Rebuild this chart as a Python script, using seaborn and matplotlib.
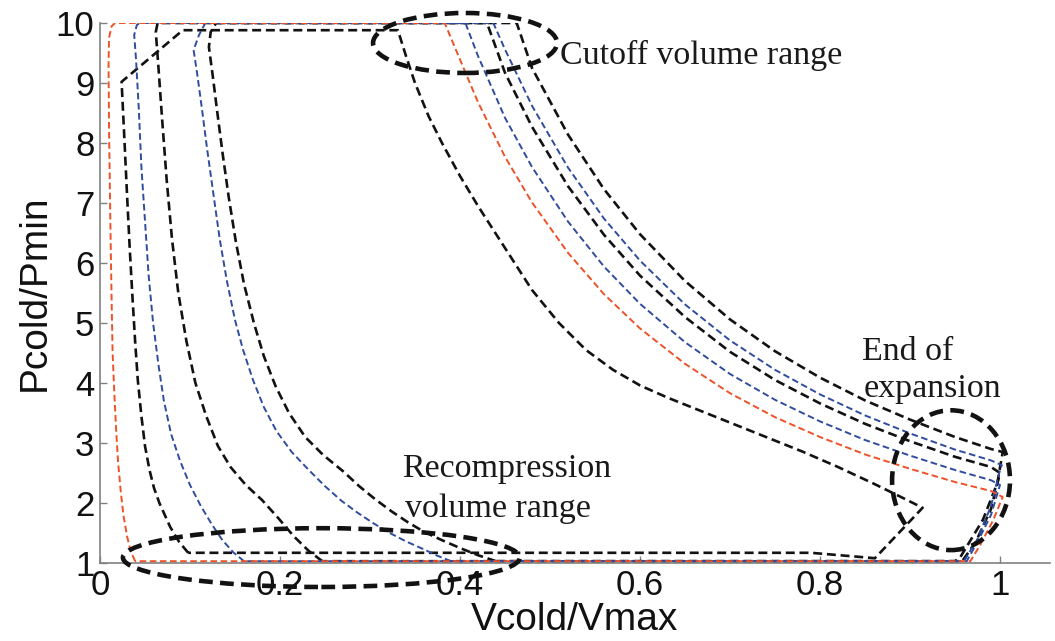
import matplotlib
matplotlib.use("Agg")
import matplotlib.pyplot as plt
from matplotlib.patches import Ellipse
import seaborn as sns
import pandas as pd

# ---- data (x = Vcold/Vmax, y = Pcold/Pmin) ----
# each loop: recompression (up), top line, expansion (down), end stroke, bottom line back
red_x = [0.039, 0.034, 0.030, 0.026, 0.023, 0.020, 0.018, 0.016, 0.014, 0.013, 0.012, 0.011, 0.010,
         0.0095, 0.010, 0.013, 0.017,
         0.383, 0.400, 0.420, 0.450, 0.480, 0.520, 0.560, 0.600, 0.650, 0.700, 0.750, 0.800,
         0.850, 0.900, 0.950, 0.990,
         1.003, 0.992, 0.978, 0.967, 0.039]
red_y = [1.03, 1.20, 1.45, 1.80, 2.20, 2.70, 3.20, 3.80, 4.50, 5.30, 6.20, 7.20, 8.30,
         9.30, 9.75, 9.95, 10.0,
         10.0, 9.39, 8.68, 7.77, 7.01, 6.17, 5.48, 4.91, 4.32, 3.83, 3.43, 3.10,
         2.81, 2.57, 2.35, 2.20,
         2.10, 1.70, 1.30, 1.03, 1.03]

blue1_x = [0.160, 0.148, 0.136, 0.124, 0.112, 0.100, 0.089, 0.079, 0.071, 0.065, 0.059, 0.054,
           0.050, 0.046, 0.043, 0.040, 0.038, 0.041, 0.045,
           0.406, 0.420, 0.450, 0.480, 0.520, 0.560, 0.600, 0.650, 0.700, 0.750, 0.800,
           0.850, 0.900, 0.950, 0.990,
           1.000, 0.990, 0.975, 0.963, 0.160]
blue1_y = [1.03, 1.18, 1.38, 1.65, 1.95, 2.30, 2.70, 3.15, 3.70, 4.30, 5.00, 5.80,
           6.70, 7.60, 8.60, 9.40, 9.80, 9.97, 10.0,
           10.0, 9.45, 8.42, 7.60, 6.69, 5.94, 5.32, 4.68, 4.15, 3.72, 3.36,
           3.05, 2.79, 2.55, 2.38,
           2.30, 1.80, 1.35, 1.03, 1.03]

black1_x = [0.098, 0.088, 0.078, 0.066, 0.060, 0.055, 0.050, 0.046, 0.042, 0.039, 0.036, 0.033,
            0.030, 0.027, 0.024, 0.092,
            0.331, 0.340, 0.350, 0.365, 0.380, 0.400, 0.420, 0.450, 0.480, 0.510, 0.540,
            0.570, 0.600, 0.630, 0.660, 0.700, 0.740, 0.780, 0.820, 0.860, 0.890, 0.914,
            0.861, 0.790, 0.098]
black1_y = [1.17, 1.35, 1.60, 2.00, 2.25, 2.55, 2.95, 3.45, 4.05, 4.70, 5.45, 6.25,
            7.15, 8.10, 9.02, 9.88,
            9.88, 9.45, 9.00, 8.45, 8.00, 7.45, 6.95, 6.25, 5.55, 5.00, 4.55,
            4.22, 3.96, 3.76, 3.58, 3.34, 3.10, 2.86, 2.60, 2.32, 2.10, 1.92,
            1.08, 1.17, 1.17]

black2_x = [0.247, 0.232, 0.215, 0.198, 0.180, 0.162, 0.145, 0.131, 0.118, 0.106, 0.096,
            0.087, 0.080, 0.074, 0.069, 0.065, 0.062, 0.064,
            0.430, 0.450, 0.480, 0.520, 0.560, 0.600, 0.650, 0.700, 0.750, 0.800,
            0.850, 0.900, 0.950, 0.990,
            1.000, 0.990, 0.973, 0.958, 0.247]
black2_y = [1.03, 1.20, 1.45, 1.75, 2.05, 2.30, 2.60, 2.95, 3.45, 4.00, 4.70,
            5.50, 6.40, 7.40, 8.40, 9.25, 9.85, 10.0,
            10.0, 9.17, 8.27, 7.28, 6.47, 5.79, 5.10, 4.52, 4.05, 3.66,
            3.32, 3.03, 2.77, 2.60,
            2.50, 1.90, 1.35, 1.03, 1.03]

blue2_x = [0.390, 0.375, 0.358, 0.340, 0.322, 0.304, 0.286, 0.268, 0.250, 0.232, 0.213, 0.196,
           0.182, 0.170, 0.159, 0.150, 0.141, 0.133, 0.126, 0.119, 0.113, 0.108, 0.104,
           0.110, 0.117,
           0.437, 0.450, 0.480, 0.520, 0.560, 0.600, 0.650, 0.700, 0.750, 0.800,
           0.850, 0.900, 0.950, 0.990, 1.002,
           1.000, 0.990, 0.975, 0.960, 0.390]
blue2_y = [1.03, 1.12, 1.24, 1.36, 1.50, 1.66, 1.84, 2.04, 2.28, 2.55, 2.85, 3.20,
           3.60, 4.05, 4.55, 5.05, 5.70, 6.40, 7.15, 7.90, 8.60, 9.15, 9.55,
           9.80, 10.0,
           10.0, 9.56, 8.62, 7.59, 6.74, 6.04, 5.31, 4.71, 4.22, 3.81,
           3.46, 3.16, 2.89, 2.71, 2.63,
           2.55, 1.95, 1.40, 1.03, 1.03]

black3_x = [0.440, 0.420, 0.400, 0.380, 0.360, 0.342, 0.324, 0.306, 0.288, 0.270, 0.248, 0.228,
            0.210, 0.195, 0.182, 0.171, 0.160, 0.151, 0.143, 0.136, 0.130, 0.125, 0.121,
            0.123, 0.129,
            0.463, 0.480, 0.520, 0.560, 0.600, 0.650, 0.700, 0.750, 0.800,
            0.850, 0.900, 0.950, 0.990, 1.003,
            0.997, 0.981, 0.956, 0.950, 0.440]
black3_y = [1.03, 1.13, 1.25, 1.38, 1.52, 1.68, 1.86, 2.06, 2.28, 2.53, 2.80, 3.10,
            3.50, 3.95, 4.45, 5.00, 5.65, 6.35, 7.10, 7.85, 8.55, 9.15, 9.60,
            9.85, 10.0,
            10.0, 9.25, 8.14, 7.23, 6.48, 5.70, 5.06, 4.53, 4.09,
            3.71, 3.39, 3.10, 2.90, 2.85,
            2.33, 1.72, 1.10, 1.03, 1.03]

x_ticks = [0, 0.2, 0.4, 0.6, 0.8, 1]
x_tick_labels = ["0", "0.2", "0.4", "0.6", "0.8", "1"]
y_ticks = [1, 2, 3, 4, 5, 6, 7, 8, 9, 10]

RED = "#ee5228"
BLUE = "#2f4c9e"
BLACK = "#121212"

sns.set_style("ticks")
plt.rcParams["font.family"] = ["Liberation Sans", "DejaVu Sans"]

fig = plt.figure(figsize=(10.55, 6.41), dpi=100)
ax = fig.add_axes([100 / 1055, 78 / 641, 950 / 1055, 540 / 641])

loops = [
    (black1_x, black1_y, BLACK, 1.9),
    (black2_x, black2_y, BLACK, 1.9),
    (black3_x, black3_y, BLACK, 1.9),
    (blue2_x, blue2_y, BLUE, 1.4),
    (blue1_x, blue1_y, BLUE, 1.4),
    (red_x, red_y, RED, 1.4),
]
for lx, ly, col, lw in loops:
    df = pd.DataFrame({"x": lx, "y": ly})
    sns.lineplot(data=df, x="x", y="y", sort=False, estimator=None, ax=ax,
                 color=col, linewidth=lw, linestyle=(0, (3.4, 1.8)))

# annotation ellipses
ell_kw = dict(fill=False, edgecolor=BLACK, linewidth=3.3,
              linestyle=(0, (3.0, 1.6)), clip_on=False, zorder=5)
ax.add_patch(Ellipse((0.4056, 9.667), 0.2044, 1.0, **ell_kw))
ax.add_patch(Ellipse((0.9456, 2.38), 0.131, 2.33, **ell_kw))
ax.add_patch(Ellipse((0.246, 1.09), 0.441, 0.98, **ell_kw))

serif = ["Liberation Serif", "DejaVu Serif"]
tkw = dict(family=serif, fontsize=24.5, color="#1a1a1a")
ax.text(0.511, 9.32, "Cutoff volume range", **tkw)
ax.text(0.847, 4.38, "End of", **tkw)
ax.text(0.848, 3.77, "expansion", **tkw)
ax.text(0.336, 2.43, "Recompression", **tkw)
ax.text(0.339, 1.77, "volume range", **tkw)

ax.set_xlim(0, 950 / 900)
ax.set_ylim(1, 10)
ax.set_xticks(x_ticks)
ax.set_xticklabels(x_tick_labels)
ax.set_yticks(y_ticks)
ax.tick_params(axis="both", direction="in", length=5, width=1.0, color="#808080",
               labelsize=25, labelcolor="#111111", pad=4)
ax.set_xlabel("Vcold/Vmax", fontsize=28, labelpad=0, color="#111111")
ax.set_ylabel("Pcold/Pmin", fontsize=28, labelpad=2, color="#111111")
for s in ["top", "right"]:
    ax.spines[s].set_visible(False)
for s in ["left", "bottom"]:
    ax.spines[s].set_color("#808080")
    ax.spines[s].set_linewidth(1.2)

fig.savefig("out.png", dpi=100)
